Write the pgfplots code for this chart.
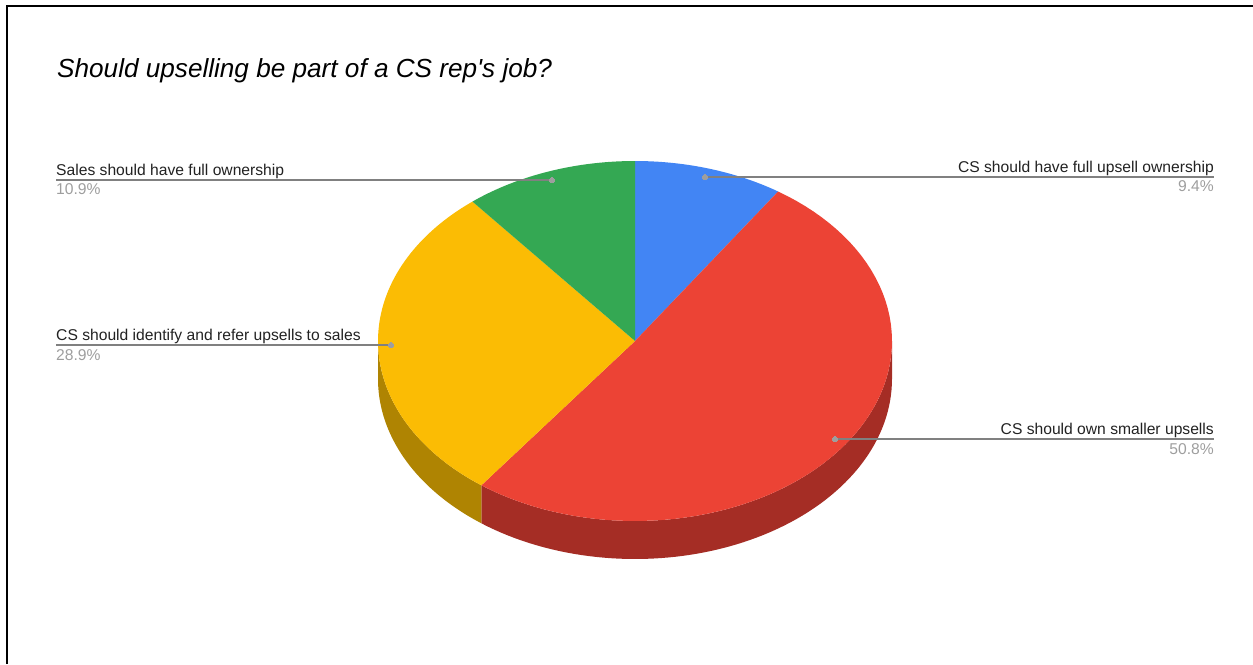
\documentclass[border=0pt]{standalone}
\usepackage{pgfplots}
\pgfplotsset{compat=1.18}
\usepackage{fontspec}
\setmainfont{Liberation Sans}

\definecolor{sliceblue}{HTML}{4285F4}
\definecolor{slicered}{HTML}{EC4335}
\definecolor{sliceyellow}{HTML}{FBBC04}
\definecolor{slicegreen}{HTML}{34A853}
\definecolor{sidered}{HTML}{A52D25}
\definecolor{sideyellow}{HTML}{AF8402}
\definecolor{leader}{HTML}{808080}
\definecolor{leaderdot}{HTML}{9E9E9E}
\definecolor{pctgrey}{HTML}{9E9E9E}
\definecolor{labelink}{HTML}{222222}

% Survey shares, clockwise from twelve o'clock
\def\vFull{9.4}
\def\vSmall{50.8}
\def\vRefer{28.9}
\def\vSales{10.9}

% Pie geometry on the pixel grid of the axis
\def\cx{635}\def\cy{341}\def\rx{257}\def\ry{180}\def\depth{38}

% Appends an elliptical arc between two angles to \ptlist
\newcommand{\appendarc}[3]{%
  \pgfmathsetmacro\arcstep{(#2-(#1))/72}%
  \foreach \i in {0,...,72}{%
    \pgfmathsetmacro\arct{#1+\i*\arcstep}%
    \pgfmathsetmacro\arcx{\cx+\rx*sin(\arct)}%
    \pgfmathsetmacro\arcy{\cy+#3+\ry*(-cos(\arct))}%
    \xdef\ptlist{\ptlist (\arcx,\arcy)}%
  }%
}
% Top face of a slice, between cumulative shares in percent
\newcommand{\topface}[3]{%
  \pgfmathsetmacro\angA{#1*3.6}\pgfmathsetmacro\angB{#2*3.6}%
  \xdef\ptlist{(\cx,\cy)}%
  \appendarc{\angA}{\angB}{0}%
  \xdef\ptlist{\ptlist (\cx,\cy)}%
  \edef\tmpplot{\noexpand\addplot[fill=#3,draw=none] coordinates {\ptlist};}%
  \tmpplot
}
% Visible rim of a slice, between two angles in degrees
\newcommand{\rimface}[3]{%
  \xdef\ptlist{}%
  \appendarc{#1}{#2}{0}%
  \appendarc{#2}{#1}{\depth}%
  \edef\tmpplot{\noexpand\addplot[fill=#3,draw=none] coordinates {\ptlist};}%
  \tmpplot
}

\newcommand{\lab}{\fontsize{15.65}{17}\selectfont}

\begin{document}
\begin{tikzpicture}
\useasboundingbox (0,0) rectangle (1253pt,664pt);
\begin{axis}[
  at={(0,0)}, anchor=south west,
  scale only axis, width=1253pt, height=664pt,
  xmin=0, xmax=1253, ymin=0, ymax=664, y dir=reverse,
  hide axis, clip=false,
]
  % Frame along the top and left edges
  \addplot[black, mark=none, line width=2pt] coordinates {(6.7,664) (6.7,6) (1253,6)};

  % Rim below the front of the pie
  \pgfmathsetmacro\cumB{(\vFull+\vSmall)*3.6}
  \rimface{90}{\cumB}{sidered}
  \rimface{\cumB}{270}{sideyellow}

  % Top faces
  \pgfmathsetmacro\sA{\vFull}
  \pgfmathsetmacro\sB{\vFull+\vSmall}
  \pgfmathsetmacro\sC{\vFull+\vSmall+\vRefer}
  \pgfmathsetmacro\sD{\vFull+\vSmall+\vRefer+\vSales}
  \topface{0}{\sA}{sliceblue}
  \topface{\sA}{\sB}{slicered}
  \topface{\sB}{\sC}{sliceyellow}
  \topface{\sC}{\sD}{slicegreen}

  % Leader lines
  \addplot[leader, mark=none, line width=1.3pt] coordinates {(705,177) (1214,177)};
  \addplot[leader, mark=none, line width=1.3pt] coordinates {(835,439) (1214,439)};
  \addplot[leader, mark=none, line width=1.3pt] coordinates {(56,345) (391,345)};
  \addplot[leader, mark=none, line width=1.3pt] coordinates {(56,180) (552,180)};

  % Anchor dots on the slices
  \addplot[draw=none, only marks, mark=*, mark size=2.5pt,
           mark options={solid, fill=leaderdot, draw=leaderdot, line width=0pt}]
    coordinates {(705,177) (835,439) (391,345) (552,180)};

  % Title
  \node[anchor=base west, inner sep=0pt, text=black] at (axis cs:57,77)
    {\fontsize{26.15}{30}\selectfont\itshape Should upselling be part of a CS rep\textquotesingle s job?};

  % Slice labels and their shares
  \node[anchor=base east, inner sep=0pt, text=labelink] at (axis cs:1214,172)
    {\lab CS should have full upsell ownership};
  \node[anchor=base east, inner sep=0pt, text=pctgrey] at (axis cs:1214,191.5)
    {\lab 9.4\%};
  \node[anchor=base east, inner sep=0pt, text=labelink] at (axis cs:1214,434)
    {\lab CS should own smaller upsells};
  \node[anchor=base east, inner sep=0pt, text=pctgrey] at (axis cs:1214,454)
    {\lab 50.8\%};
  \node[anchor=base west, inner sep=0pt, text=labelink] at (axis cs:56,340)
    {\lab CS should identify and refer upsells to sales};
  \node[anchor=base west, inner sep=0pt, text=pctgrey] at (axis cs:56,360)
    {\lab 28.9\%};
  \node[anchor=base west, inner sep=0pt, text=labelink] at (axis cs:56,175)
    {\lab Sales should have full ownership};
  \node[anchor=base west, inner sep=0pt, text=pctgrey] at (axis cs:56,194.5)
    {\lab 10.9\%};
\end{axis}
\end{tikzpicture}
\end{document}
